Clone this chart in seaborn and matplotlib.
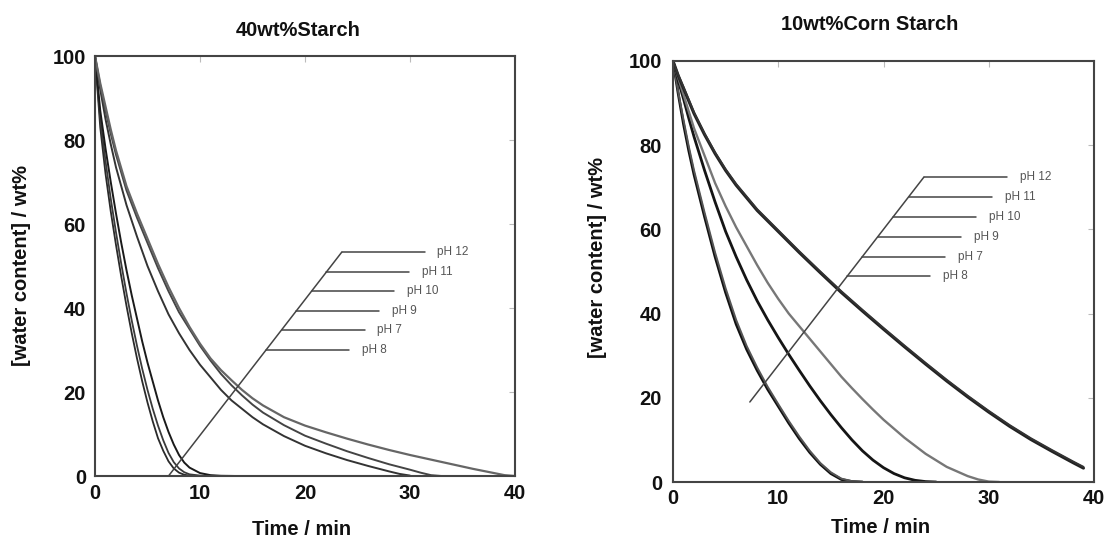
import matplotlib
matplotlib.use("Agg")
import matplotlib.pyplot as plt
import seaborn as sns
import pandas as pd

# ---------------- data: 40wt% Starch (left) ----------------
L_PH8_T = [0, 0.5, 1, 1.5, 2, 2.5, 3, 3.5, 4, 4.5, 5, 5.5, 6, 6.5, 7, 7.5, 8, 8.5, 9, 10, 11.5]
L_PH8_W = [100, 83, 72, 63, 55, 47.5, 40.5, 34, 28, 22.5, 17.5, 13, 9, 6, 3.5, 1.8, 0.8, 0.3, 0.1, 0, 0]
L_PH7_T = [0, 0.5, 1, 1.5, 2, 2.5, 3, 3.5, 4, 4.5, 5, 5.5, 6, 6.5, 7, 7.5, 8, 8.5, 9, 10, 12]
L_PH7_W = [100, 85, 75, 66, 58, 50.5, 43.5, 37, 31, 25.5, 20.5, 16, 12, 8.5, 5.5, 3.3, 1.8, 0.9, 0.4, 0.1, 0]
L_PH9_T = [0, 0.5, 1, 1.5, 2, 2.5, 3, 3.5, 4, 4.5, 5, 5.5, 6, 6.5, 7, 7.5, 8, 8.5, 9, 10, 11, 12, 13.5]
L_PH9_W = [100, 87, 78, 70, 62.5, 55.5, 49, 43, 37.5, 32, 27, 22.5, 18, 14, 10.5, 7.5, 5, 3.2, 2, 0.7, 0.2, 0.05, 0]
L_PH10_T = [0, 0.5, 1, 1.5, 2, 3, 4, 5, 6, 7, 8, 9, 10, 11, 12, 13, 14, 15, 16, 18, 20, 22, 24, 26, 28, 29, 30]
L_PH10_W = [100, 92, 85, 79, 73.5, 64.5, 57, 50, 44, 38.5, 34, 30, 26.5, 23.5, 20.5, 18, 16, 14, 12.3, 9.5, 7.2, 5.4, 3.8, 2.4, 1.1, 0.5, 0.1]
L_PH11_T = [0, 0.5, 1, 1.5, 2, 3, 4, 5, 6, 7, 8, 9, 10, 11, 12, 13, 14, 15, 16, 18, 20, 22, 24, 26, 28, 30, 31, 32, 33]
L_PH11_W = [100, 93, 87, 81.5, 76.5, 68, 61.5, 55.5, 49.5, 44, 39, 35, 31, 27.5, 24.3, 21.6, 19.2, 17, 15.1, 12.1, 9.6, 7.7, 5.9, 4.3, 2.8, 1.5, 0.8, 0.2, 0]
L_PH12_T = [0, 0.5, 1, 1.5, 2, 3, 4, 5, 6, 7, 8, 9, 10, 11, 12, 13, 14, 15, 16, 18, 20, 22, 24, 26, 28, 30, 32, 34, 36, 38, 39, 40]
L_PH12_W = [100, 93.5, 88, 82.5, 77.5, 69, 62.5, 56.5, 50.5, 45, 40, 35.5, 31.5, 28, 25.2, 22.8, 20.5, 18.5, 16.8, 14, 12, 10.4, 8.9, 7.5, 6.2, 5.0, 3.9, 2.8, 1.7, 0.7, 0.2, 0]

# ---------------- data: 10wt% Corn Starch (right) ----------------
R_PH8_T = [0, 0.5, 1, 1.5, 2, 3, 4, 5, 6, 7, 8, 9, 10, 11, 12, 13, 14, 15, 16, 17, 18]
R_PH8_W = [100, 92.2, 85, 78.7, 73, 63, 53.5, 45, 37.5, 31.5, 26.5, 22, 18, 14, 10.3, 7, 4.2, 2, 0.6, 0.1, 0]
R_PH7_T = [0, 0.5, 1, 1.5, 2, 3, 4, 5, 6, 7, 8, 9, 10, 11, 12, 13, 14, 15, 16, 17, 18]
R_PH7_W = [100, 92.6, 86, 79.7, 74, 64, 54.5, 46, 38.5, 32.3, 27.2, 22.6, 18.5, 14.5, 10.8, 7.4, 4.5, 2.3, 0.8, 0.2, 0]
R_PH9_T = [0, 0.5, 1, 1.5, 2, 3, 4, 5, 6, 7, 8, 9, 10, 11, 12, 13, 14, 15, 16, 17, 18, 19, 20, 21, 22, 23, 24, 25]
R_PH9_W = [100, 95.3, 91, 86.4, 82, 74, 66.5, 59.5, 53.5, 48, 43, 38.5, 34.3, 30.3, 26.5, 22.8, 19.3, 16, 12.9, 10, 7.4, 5.2, 3.4, 2, 1, 0.4, 0.1, 0]
R_PH10_T = [0, 0.5, 1, 1.5, 2, 3, 4, 5, 6, 7, 8, 9, 10, 11, 12, 13, 14, 15, 16, 17, 18, 19, 20, 22, 24, 26, 28, 29, 30, 31]
R_PH10_W = [100, 96, 92, 88, 84, 77.5, 71, 65.5, 60.5, 56, 51.5, 47.3, 43.5, 40, 37, 34, 31, 28, 25, 22.3, 19.7, 17.2, 14.8, 10.5, 6.7, 3.6, 1.4, 0.6, 0.1, 0]
R_PH11_T = [0, 0.5, 1, 1.5, 2, 3, 4, 5, 6, 7, 8, 9, 10, 12, 14, 16, 18, 20, 22, 24, 26, 28, 30, 32, 34, 36, 38, 39]
R_PH11_W = [100, 96.5, 93.5, 90.5, 87.5, 82.5, 78, 74, 70.5, 67.5, 64.5, 62, 59.5, 54.5, 49.7, 45, 40.6, 36.3, 32.1, 28, 24, 20.2, 16.6, 13.2, 10.1, 7.3, 4.6, 3.3]
R_PH12_T = [0, 0.5, 1, 1.5, 2, 3, 4, 5, 6, 7, 8, 9, 10, 12, 14, 16, 18, 20, 22, 24, 26, 28, 30, 32, 34, 36, 38, 39]
R_PH12_W = [100, 96.7, 93.8, 90.8, 87.8, 82.8, 78.3, 74.3, 70.8, 67.8, 64.8, 62.3, 59.8, 54.8, 50, 45.3, 40.9, 36.6, 32.4, 28.3, 24.3, 20.5, 16.9, 13.5, 10.4, 7.6, 4.9, 3.6]

# ---------------- annotation labels ----------------
PH_LABELS = ["pH 12", "pH 11", "pH 10", "pH 9", "pH 7", "pH 8"]
L_LABEL_Y = [53.3, 48.6, 44.0, 39.3, 34.8, 30.0]
R_LABEL_Y = [72.4, 67.8, 63.0, 58.3, 53.5, 48.9]

TITLES = ["40wt%Starch", "10wt%Corn Starch"]
XLABEL = "Time / min"
YLABEL = "[water content] / wt%"
XTICKS = [0, 10, 20, 30, 40]
YTICKS = [0, 20, 40, 60, 80, 100]

sns.set_theme(style="white")
plt.rcParams["font.family"] = ["Liberation Sans", "DejaVu Sans"]

fig = plt.figure(figsize=(11.08, 5.45), dpi=100)
W, H = 1108, 545
axL = fig.add_axes([95 / W, (H - 476) / H, 420 / W, 420 / H])
axR = fig.add_axes([673 / W, (H - 482) / H, 421 / W, 421 / H])


def draw(ax, t, w, color, lw):
    df = pd.DataFrame({"t": t, "w": w})
    sns.lineplot(data=df, x="t", y="w", ax=ax, color=color, linewidth=lw,
                 estimator=None, sort=False)


left_series = [
    (L_PH8_T, L_PH8_W, "#2a2a2a", 1.3),
    (L_PH7_T, L_PH7_W, "#3a3a3a", 1.3),
    (L_PH9_T, L_PH9_W, "#1a1a1a", 1.4),
    (L_PH10_T, L_PH10_W, "#333333", 1.4),
    (L_PH11_T, L_PH11_W, "#444444", 1.4),
    (L_PH12_T, L_PH12_W, "#666666", 1.6),
]
right_series = [
    (R_PH8_T, R_PH8_W, "#111111", 2.0),
    (R_PH7_T, R_PH7_W, "#555555", 1.4),
    (R_PH9_T, R_PH9_W, "#151515", 2.0),
    (R_PH10_T, R_PH10_W, "#777777", 1.7),
    (R_PH11_T, R_PH11_W, "#222222", 2.2),
    (R_PH12_T, R_PH12_W, "#333333", 1.4),
]
for s in left_series:
    draw(axL, *s)
for s in right_series:
    draw(axR, *s)


def annotate(ax, x0, y0, label_y):
    slope = 3.23
    length = 7.9
    xs = [x0 + (y - y0) / slope for y in label_y]
    ax.plot([x0, xs[0]], [y0, label_y[0]], color="#444444", lw=1.1)
    for x, y, lab in zip(xs, label_y, PH_LABELS):
        ax.plot([x, x + length], [y, y], color="#444444", lw=1.1)
        ax.text(x + length + 1.2, y, lab, fontsize=8.5, color="#555555",
                ha="left", va="center", family=["Liberation Sans", "DejaVu Sans"])


annotate(axL, 7.0, 0.0, L_LABEL_Y)
annotate(axR, 7.3, 19.0, R_LABEL_Y)

for ax, ypad, xpad in [(axL, 6.5, 6.0), (axR, 8.0, 5.0)]:
    ax.set_xlim(0, 40)
    ax.set_ylim(0, 100)
    ax.set_xticks(XTICKS)
    ax.set_yticks(YTICKS)
    ax.tick_params(axis="both", direction="in", length=4, width=0.8, color="#bbbbbb",
                   top=True, right=True, labelsize=14.5, labelcolor="#111111")
    ax.tick_params(axis="y", pad=ypad)
    ax.tick_params(axis="x", pad=xpad)
    for lab in ax.get_xticklabels() + ax.get_yticklabels():
        lab.set_fontweight("bold")
    for sp in ax.spines.values():
        sp.set_visible(True)
        sp.set_color("#444444")
        sp.set_linewidth(1.5)
    ax.set_xlabel(XLABEL, fontsize=14.5, fontweight="bold", color="#111111")
    ax.set_ylabel(YLABEL, fontsize=14.5, fontweight="bold", color="#111111")
    ax.grid(False)

axL.xaxis.set_label_coords(0.493, -0.105)
axR.xaxis.set_label_coords(0.492, -0.086)
axL.yaxis.set_label_coords(-0.152, 0.5)
axR.yaxis.set_label_coords(-0.157, 0.533)

fig.text(298.5 / W, 1 - 30.5 / H, TITLES[0], ha="center", va="center",
         fontsize=14.5, fontweight="bold", color="#111111")
fig.text(870 / W, 1 - 24.4 / H, TITLES[1], ha="center", va="center",
         fontsize=14.5, fontweight="bold", color="#111111")

fig.savefig("out.png", dpi=100, facecolor="white")
